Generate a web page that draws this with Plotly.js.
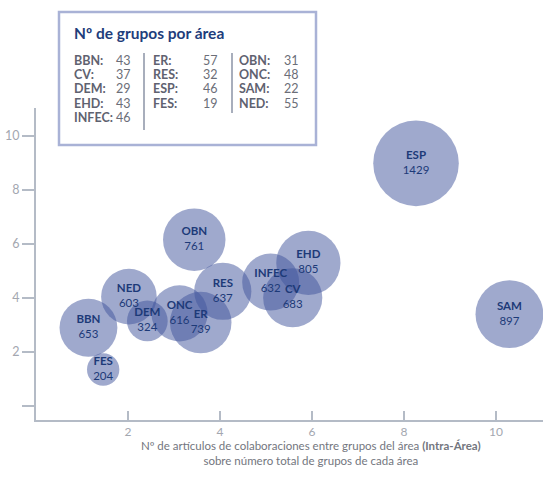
<!DOCTYPE html>
<html>
<head>
<meta charset="utf-8">
<script src="https://cdn.plot.ly/plotly-3.0.1.min.js"></script>
<style>
html,body{margin:0;padding:0;background:#fff;}
#chart{width:543px;height:485px;}
</style>
</head>
<body>
<div id="chart"></div>
<script>
// ---- Data ----
var areas    = ['BBN','CV','DEM','EHD','INFEC','ER','RES','ESP','FES','OBN','ONC','SAM','NED'];
var groups   = [43, 37, 29, 43, 46, 57, 32, 46, 19, 31, 48, 22, 55];
var intraX   = [1.14, 5.58, 2.42, 5.92, 5.10, 3.58, 4.06, 8.26, 1.46, 3.44, 3.12, 10.29, 2.02];
var interY   = [2.90, 4.01, 3.15, 5.30, 4.59, 3.09, 4.25, 8.99, 1.35, 6.16, 3.43, 3.40, 4.05];
var articles = [653, 683, 324, 805, 632, 739, 637, 1429, 204, 761, 616, 897, 603];
var xTicks   = [2, 4, 6, 8, 10];
var yTicks   = [0, 2, 4, 6, 8, 10];
var yTickText= ['', '2', '4', '6', '8', '10'];
var legendTitle = 'Nº de grupos por área';
var legendCols  = [5, 4, 4]; // items per column

// ---- Layout helpers (pixel -> paper) ----
var W = 543, H = 485;
var mL = 36, mR = 0, mT = 108, mB = 65;
var pw = W - mL - mR, ph = H - mT - mB;
function px(x){ return (x - mL) / pw; }
function py(y){ return (H - mB - y) / ph; }

var FONT = 'Lato, "Open Sans", sans-serif';
var NAVY = '#1d3a78';
var GREY = '#5f6270';

var bubbleText = areas.map(function(a, i){ return '<b>' + a + '</b><br>' + articles[i]; });

var trace = {
  type: 'scatter',
  mode: 'markers+text',
  x: intraX,
  y: interY,
  text: bubbleText,
  textposition: 'middle center',
  textfont: {family: FONT, size: 11.5, color: NAVY},
  hoverinfo: 'none',
  marker: {
    size: articles,
    sizemode: 'area',
    sizeref: 0.39,
    color: 'rgb(64,84,156)',
    opacity: 0.5,
    line: {width: 0}
  },
  cliponaxis: false,
  showlegend: false
};

var annotations = [];
var shapes = [];

// Legend box
shapes.push({type:'rect', xref:'paper', yref:'paper',
  x0: px(59), x1: px(316), y0: py(145), y1: py(12),
  line:{color:'#a9b2d6', width:2.5}, fillcolor:'#ffffff', layer:'above'});
annotations.push({xref:'paper', yref:'paper', x: px(72), y: py(33), xanchor:'left', yanchor:'middle',
  text:'<b>' + legendTitle + '</b>', showarrow:false,
  font:{family:FONT, size:15.5, color:'#1e3d7b'}});

var colLabelX = [72, 151, 237];
var colValX   = [114, 201, 282];
var rowY0 = 60, rowStep = 14.4;
var idx = 0;
legendCols.forEach(function(n, c){
  for (var r = 0; r < n; r++, idx++) {
    var yy = rowY0 + r * rowStep;
    annotations.push({xref:'paper', yref:'paper', x: px(colLabelX[c]), y: py(yy), xanchor:'left', yanchor:'middle',
      text:'<b>' + areas[idx] + ':</b>', showarrow:false, font:{family:FONT, size:12.5, color:GREY}});
    annotations.push({xref:'paper', yref:'paper', x: px(colValX[c]), y: py(yy), xanchor:'left', yanchor:'middle',
      text: String(groups[idx]), showarrow:false, font:{family:FONT, size:12.5, color:'#6b6e78'}});
  }
});
// column separators
shapes.push({type:'line', xref:'paper', yref:'paper', x0:px(144), x1:px(144), y0:py(53), y1:py(130),
  line:{color:'#8b93a6', width:1.5}, layer:'above'});
shapes.push({type:'line', xref:'paper', yref:'paper', x0:px(232), x1:px(232), y0:py(53), y1:py(113),
  line:{color:'#8b93a6', width:1.5}, layer:'above'});

// x axis title (annotation for exact placement)
annotations.push({xref:'paper', yref:'paper', x: px(311), y: py(453), xanchor:'center', yanchor:'middle',
  text:'Nº de artículos de colaboraciones entre grupos del área <b>(Intra-Área)</b><br>sobre número total de grupos de cada área',
  showarrow:false, align:'center', font:{family:FONT, size:11.5, color:'#73767e'}});

var layout = {
  width: W, height: H,
  margin: {l: mL, r: mR, t: mT, b: mB, pad: 0},
  paper_bgcolor: '#ffffff',
  plot_bgcolor: '#ffffff',
  showlegend: false,
  xaxis: {
    range: [0, 11.02],
    tickmode: 'array', tickvals: xTicks,
    ticks: 'inside', ticklen: 9, tickwidth: 1.5, tickcolor: '#b4bbc6',
    showline: true, linecolor: '#b4bbc6', linewidth: 2,
    showgrid: false, zeroline: false,
    tickfont: {family: FONT, size: 12, color: '#a3a7b0'},
    fixedrange: true
  },
  yaxis: {
    range: [-0.52, 11.04],
    tickmode: 'array', tickvals: yTicks, ticktext: yTickText,
    ticks: 'outside', ticklen: 12, tickwidth: 1.5, tickcolor: '#b4bbc6',
    showline: true, linecolor: '#b4bbc6', linewidth: 2,
    showgrid: false, zeroline: false,
    tickfont: {family: FONT, size: 12.5, color: '#a3a7b0'},
    fixedrange: true
  },
  shapes: shapes,
  annotations: annotations
};

Plotly.newPlot('chart', [trace], layout, {displayModeBar: false, staticPlot: true});
</script>
</body>
</html>
